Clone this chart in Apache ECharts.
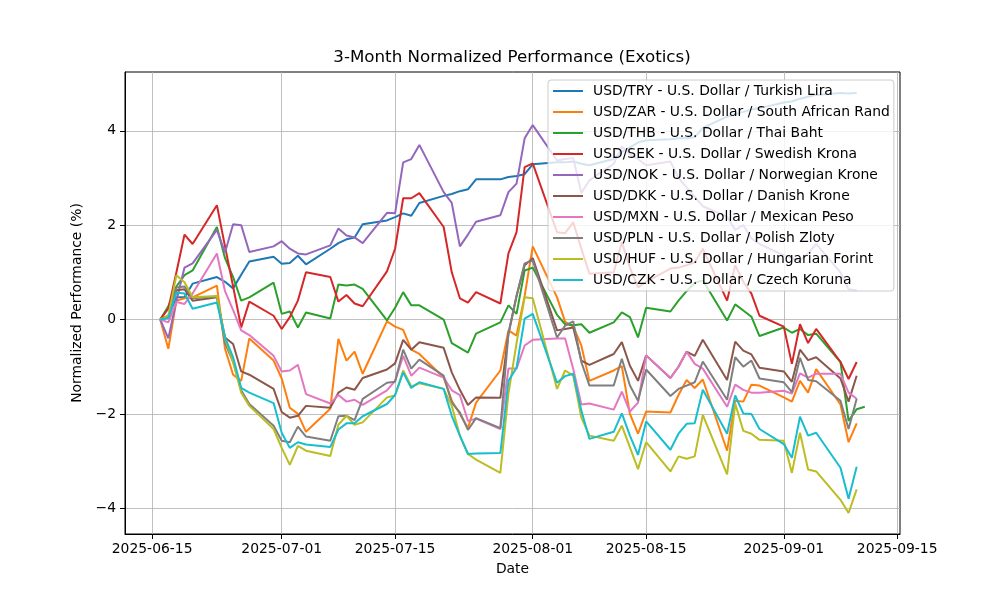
<!DOCTYPE html>
<html><head><meta charset="utf-8">
<script src="https://cdn.jsdelivr.net/npm/echarts@6/dist/echarts.min.js"></script>
<style>html,body{margin:0;padding:0;background:#fff}#c{width:1000px;height:600px}</style>
</head><body><div id="c"></div>
<script>
const dates = [
 '2025-06-16','2025-06-17','2025-06-18','2025-06-19','2025-06-20','2025-06-23','2025-06-24','2025-06-25','2025-06-26','2025-06-27','2025-06-30',
 '2025-07-01','2025-07-02','2025-07-03','2025-07-04','2025-07-07','2025-07-08','2025-07-09','2025-07-10','2025-07-11','2025-07-14','2025-07-15','2025-07-16','2025-07-17','2025-07-18','2025-07-21','2025-07-22','2025-07-23','2025-07-24','2025-07-25','2025-07-28','2025-07-29','2025-07-30','2025-07-31',
 '2025-08-01','2025-08-04','2025-08-05','2025-08-06','2025-08-07','2025-08-08','2025-08-11','2025-08-12','2025-08-13','2025-08-14','2025-08-15','2025-08-18','2025-08-19','2025-08-20','2025-08-21','2025-08-22','2025-08-25','2025-08-26','2025-08-27','2025-08-28','2025-08-29',
 '2025-09-01','2025-09-02','2025-09-03','2025-09-04','2025-09-05','2025-09-08','2025-09-09','2025-09-10'
];
const datesTHB = dates.concat(['2025-09-11']);

const seriesNames = [
 'USD/TRY - U.S. Dollar / Turkish Lira',
 'USD/ZAR - U.S. Dollar / South African Rand',
 'USD/THB - U.S. Dollar / Thai Baht',
 'USD/SEK - U.S. Dollar / Swedish Krona',
 'USD/NOK - U.S. Dollar / Norwegian Krone',
 'USD/DKK - U.S. Dollar / Danish Krone',
 'USD/MXN - U.S. Dollar / Mexican Peso',
 'USD/PLN - U.S. Dollar / Polish Zloty',
 'USD/HUF - U.S. Dollar / Hungarian Forint',
 'USD/CZK - U.S. Dollar / Czech Koruna'
];
const colors = ['#1f77b4','#ff7f0e','#2ca02c','#d62728','#9467bd','#8c564b','#e377c2','#7f7f7f','#bcbd22','#17becf'];

const TRY = [0,0.08,0.47,0.47,0.76,0.9,0.8,0.66,0.95,1.23,1.33,
 1.18,1.2,1.35,1.17,1.5,1.62,1.7,1.74,2.02,2.1,2.17,2.25,2.2,2.47,2.62,2.66,2.72,2.76,2.97,2.97,3.02,3.04,3.08,
 3.29,3.33,3.33,3.35,3.3,3.27,3.4,3.55,3.65,3.75,3.8,3.82,3.84,3.84,3.86,4.06,4.3,4.35,4.4,4.45,4.48,
 4.6,4.62,4.68,4.72,4.76,4.8,4.79,4.8];
const ZAR = [0,-0.62,0.4,0.45,0.47,0.72,-0.62,-1.17,-1.3,-0.4,-0.87,
 -1.25,-1.87,-2.0,-2.38,-1.89,-0.41,-0.87,-0.68,-1.15,-0.04,-0.15,-0.22,-0.64,-0.73,-1.23,-1.72,-2.0,-2.3,-1.76,-1.08,-0.23,-0.34,0.5,
 1.55,0.47,-0.05,-0.15,-0.55,-1.3,-1.08,-0.99,-2.0,-2.42,-1.95,-1.97,-1.6,-1.28,-1.45,-1.27,-2.78,-1.72,-1.74,-1.38,-1.4,
 -1.65,-1.74,-1.3,-1.55,-1.05,-1.8,-2.6,-2.2];
const THB = [0,0.28,0.7,0.94,1.04,1.96,1.3,0.9,0.4,0.47,0.78,
 0.12,0.17,-0.17,0.15,0.02,0.74,0.72,0.74,0.65,-0.02,0.25,0.58,0.3,0.3,0.0,-0.5,-0.6,-0.7,-0.3,-0.06,0.3,0.12,1.04,
 1.1,0.1,-0.1,-0.12,-0.1,-0.28,-0.06,0.15,0.05,-0.38,0.25,0.17,0.4,0.6,0.78,0.83,-0.02,0.32,0.19,0.06,-0.35,
 -0.17,-0.28,-0.2,-0.33,-0.3,-0.9,-2.15,-1.9,-1.85];
const SEK = [0,0.23,1.0,1.8,1.6,2.42,1.55,0.7,-0.17,0.38,0.08,
 -0.2,0.05,0.4,1.0,0.9,0.38,0.52,0.34,0.28,1.02,1.5,2.57,2.57,2.68,1.96,1.0,0.45,0.36,0.58,0.34,1.4,1.85,3.23,
 3.31,1.85,1.83,2.06,1.5,0.97,1.0,1.64,1.1,0.68,0.8,1.08,1.1,1.15,1.21,1.5,0.4,1.15,0.8,0.55,0.08,
 -0.15,-0.94,-0.1,-0.5,-0.2,-0.9,-1.26,-0.9];
const NOK = [0,-0.4,0.4,1.1,1.19,1.9,1.42,2.02,2.0,1.43,1.55,
 1.66,1.5,1.4,1.38,1.57,1.93,1.78,1.74,1.62,2.26,2.25,3.33,3.4,3.7,2.7,2.47,1.55,1.8,2.07,2.21,2.7,2.88,3.84,
 4.12,3.37,3.4,3.42,2.68,2.95,3.3,3.66,3.5,3.4,3.27,3.35,3.0,2.8,2.6,2.4,2.18,1.9,2.0,1.72,1.6,
 1.36,1.3,1.25,1.4,1.6,1.0,0.64,0.62];
const DKK = [0,0.05,0.62,0.64,0.4,0.47,-0.38,-0.52,-1.1,-1.17,-1.47,
 -1.96,-2.08,-2.04,-1.83,-1.87,-1.55,-1.44,-1.49,-1.24,-1.06,-0.93,-0.43,-0.64,-0.48,-0.6,-1.12,-1.49,-1.81,-1.65,-1.66,-0.3,0.5,1.15,
 1.3,-0.23,-0.2,-0.17,-0.87,-0.96,-0.73,-0.48,-0.98,-1.3,-0.76,-1.24,-1.0,-0.68,-0.77,-0.43,-1.28,-0.47,-0.66,-0.74,-1.02,
 -1.1,-1.32,-0.64,-0.86,-0.8,-1.25,-1.74,-1.19];
const MXN = [0,-0.06,0.37,0.33,0.55,1.4,0.6,0.2,-0.23,-0.33,-0.77,
 -1.1,-1.08,-0.96,-1.58,-1.78,-1.6,-1.74,-1.7,-1.81,-1.5,-1.3,-0.77,-1.19,-1.02,-1.23,-1.5,-1.6,-2.15,-2.1,-2.32,-1.04,-1.04,-0.55,
 -0.43,-0.4,-0.4,-1.05,-1.8,-1.78,-1.91,-1.53,-1.95,-1.76,-0.76,-1.24,-1.0,-0.68,-0.94,-1.04,-1.85,-1.38,-1.49,-1.55,-1.55,
 -1.51,-1.57,-1.14,-1.23,-1.15,-1.15,-1.55,-1.68];
const PLN = [0,0.05,0.68,0.7,0.45,0.49,-0.5,-0.9,-1.5,-1.79,-2.25,
 -2.57,-2.6,-2.27,-2.48,-2.57,-2.05,-2.04,-2.13,-1.68,-1.34,-1.32,-0.64,-1.04,-0.85,-1.19,-1.76,-1.97,-2.34,-2.09,-2.3,-0.3,0.5,1.19,
 1.25,-0.38,-0.13,-0.04,-0.9,-1.4,-1.4,-0.83,-1.4,-1.72,-1.06,-1.62,-1.47,-1.4,-1.33,-0.89,-1.7,-0.8,-1.0,-0.87,-1.25,
 -1.33,-1.54,-0.81,-1.28,-1.31,-1.72,-2.32,-1.68];
const HUF = [0,0.08,0.94,0.79,0.47,0.5,-0.4,-0.9,-1.55,-1.83,-2.32,
 -2.72,-3.08,-2.68,-2.78,-2.89,-2.23,-2.04,-2.23,-2.18,-1.65,-1.61,-1.08,-1.42,-1.35,-1.47,-1.83,-2.46,-2.85,-2.97,-3.25,-1.57,-0.5,0.47,
 0.45,-1.47,-1.08,-1.19,-2.08,-2.46,-2.57,-2.25,-2.71,-3.17,-2.6,-3.22,-2.9,-2.95,-2.9,-2.02,-3.28,-1.78,-2.36,-2.42,-2.55,
 -2.57,-3.25,-2.4,-3.18,-3.22,-3.82,-4.1,-3.6];
const CZK = [0,0.03,0.57,0.55,0.23,0.36,-0.38,-0.8,-1.45,-1.55,-1.77,
 -2.4,-2.72,-2.6,-2.65,-2.7,-2.33,-2.2,-2.2,-2.05,-1.79,-1.6,-1.12,-1.45,-1.33,-1.47,-2.04,-2.46,-2.85,-2.84,-2.83,-1.3,-1.02,0.02,
 0.12,-1.34,-1.2,-1.15,-1.93,-2.53,-2.38,-1.99,-2.46,-2.87,-2.16,-2.76,-2.42,-2.21,-2.2,-1.49,-2.42,-1.61,-1.99,-2.0,-2.32,
 -2.64,-2.93,-2.06,-2.46,-2.4,-3.14,-3.8,-3.12];

const xTickLabels = ['2025-06-15','2025-07-01','2025-07-15','2025-08-01','2025-08-15','2025-09-01','2025-09-15'];
const yTickValues = [-4,-2,0,2,4];

function ts(s){const p=s.split('-');return Date.UTC(+p[0],+p[1]-1,+p[2]);}
function pad(n){return (n<10?'0':'')+n;}
function fmtDate(v){const d=new Date(v);return d.getUTCFullYear()+'-'+pad(d.getUTCMonth()+1)+'-'+pad(d.getUTCDate());}

const valueSets = [TRY,ZAR,THB,SEK,NOK,DKK,MXN,PLN,HUF,CZK];
const dateSets = [dates,dates,datesTHB,dates,dates,dates,dates,dates,dates,dates];

const allX = datesTHB.map(ts);
const xMinD = Math.min(...allX), xMaxD = Math.max(...allX);
const xr = xMaxD - xMinD;
const allY = [].concat(...valueSets);
const yMinD = Math.min(...allY), yMaxD = Math.max(...allY);
const yr = yMaxD - yMinD;

const FONT = 'DejaVu Sans';
const chart = echarts.init(document.getElementById('c'), null, {renderer:'canvas'});
chart.setOption({
  animation: false,
  backgroundColor: '#ffffff',
  title: {
    text: '3-Month Normalized Performance (Exotics)',
    left: 512, top: 49, textAlign: 'center', padding: 0,
    textStyle: {fontFamily: FONT, fontSize: 16.7, fontWeight: 'normal', color: '#000'}
  },
  grid: {left:125, right:100, top:72, bottom:66, show:true, borderColor:'#000', borderWidth:1, backgroundColor:'transparent', containLabel:false},
  legend: {
    orient:'vertical', left:548, top:80,
    itemWidth:30, itemHeight:14, itemGap:7,
    itemStyle:{opacity:0},
    backgroundColor:'rgba(255,255,255,0.8)', borderColor:'#cccccc', borderWidth:1, borderRadius:3,
    padding:[4,4,4,4],
    textStyle:{fontFamily:FONT, fontSize:13.9, color:'#000', padding:[0,0,0,5]},
    data: seriesNames
  },
  xAxis: {
    type:'value', min: xMinD - 0.05*xr, max: xMaxD + 0.05*xr, scale:true,
    name:'Date', nameLocation:'middle', nameGap:28,
    nameTextStyle:{fontFamily:FONT, fontSize:13.9, color:'#000'},
    axisLine:{show:true, onZero:false, lineStyle:{color:'#000', width:1}},
    axisTick:{show:true, customValues: xTickLabels.map(ts), length:5, lineStyle:{color:'#000', width:1}},
    axisLabel:{customValues: xTickLabels.map(ts), formatter: fmtDate, color:'#000', fontFamily:FONT, fontSize:13.9, margin:8, hideOverlap:false, showMinLabel:true, showMaxLabel:true},
    splitLine:{show:true, lineStyle:{color:'#b0b0b0', width:0.8}}
  },
  yAxis: {
    type:'value', min: yMinD - 0.05*yr, max: yMaxD + 0.05*yr,
    name:'Normalized Performance (%)', nameLocation:'middle', nameGap:31,
    nameTextStyle:{fontFamily:FONT, fontSize:13.9, color:'#000'},
    axisLine:{show:true, onZero:false, lineStyle:{color:'#000', width:1}},
    axisTick:{show:true, customValues: yTickValues, length:5, lineStyle:{color:'#000', width:1}},
    axisLabel:{customValues: yTickValues, formatter: v => (v<0?'\u2212':'')+Math.abs(v), color:'#000', fontFamily:FONT, fontSize:13.9, margin:9},
    splitLine:{show:true, lineStyle:{color:'#b0b0b0', width:0.8}}
  },
  series: seriesNames.map((n,i) => ({
    name:n, type:'line', symbol:'none', showSymbol:false, silent:true,
    color: colors[i],
    lineStyle:{color:colors[i], width:2},
    emphasis:{disabled:true},
    data: dateSets[i].map((d,j) => [ts(d), valueSets[i][j]])
  }))
});
</script></body></html>
